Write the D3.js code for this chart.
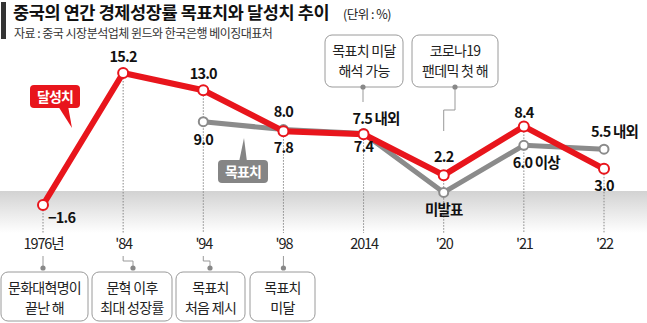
<!DOCTYPE html>
<html><head><meta charset="utf-8">
<script src="https://cdn.jsdelivr.net/npm/d3@7"></script>
<style>
body{margin:0;background:#fff;}
text{font-family:"Noto Sans CJK KR","Noto Sans",sans-serif;}
</style></head>
<body><svg id="c" width="647" height="323"></svg>
<script>
const categories = ["1976년","'84","'94","'98","2014","'20","'21","'22"];
const actual = [-1.6, 15.2, 13.0, 7.8, 7.4, 2.2, 8.4, 3.0];
const target = [null, null, 9.0, 8.0, 7.5, 0.0, 6.0, 5.5];
const actualLabels = ["−1.6","15.2","13.0","7.8","7.4","2.2","8.4","3.0"];
const targetLabels = [null,null,"9.0","8.0","7.5 내외","미발표","6.0 이상","5.5 내외"];
const bottomNotes = [["문화대혁명이","끝난 해"],["문혁 이후","최대 성장률"],["목표치","처음 제시"],["목표치","미달"]];
const topNotes = [["목표치 미달","해석 가능"],["코로나19","팬데믹 첫 해"]];

const svg = d3.select("#c");
const RED = "#e8151c", GRAY = "#8b8b8b";
const x = d3.scalePoint().domain(categories).range([43, 604]);
const y = d3.scaleLinear().domain([-1.6, 15.2]).range([205, 73]);

const defs = svg.append("defs");
const g1 = defs.append("linearGradient").attr("id","band").attr("x1",0).attr("y1",0).attr("x2",0).attr("y2",1);
g1.append("stop").attr("offset","0%").attr("stop-color","#d2d2d2");
g1.append("stop").attr("offset","100%").attr("stop-color","#ffffff");
svg.append("rect").attr("x",0).attr("y",191).attr("width",647).attr("height",42).attr("fill","url(#band)");

// title
svg.append("rect").attr("x",1).attr("y",2).attr("width",5).attr("height",37).attr("fill","#333");
svg.append("text").attr("x",13).attr("y",19).attr("font-size",17.5).attr("font-weight",700).attr("fill","#111")
  .attr("letter-spacing",-0.4).text("중국의 연간 경제성장률 목표치와 달성치 추이");
svg.append("text").attr("x",343).attr("y",18.5).attr("font-size",12.5).attr("fill","#222").attr("letter-spacing",-0.5).text("(단위 : %)");
svg.append("text").attr("x",14).attr("y",38).attr("font-size",12).attr("fill","#333").attr("letter-spacing",-0.5)
  .text("자료 : 중국 시장분석업체 윈드와 한국은행 베이징대표처");

categories.forEach((c,i)=>{
  const top = y(actual[i]);
  svg.append("line").attr("x1",x(c)).attr("x2",x(c)).attr("y1",top+5).attr("y2",233)
    .attr("stroke","#888").attr("stroke-width",1).attr("stroke-dasharray","1.5,1.5");
});

const xAxis = svg.append("g").attr("transform","translate(0,236)")
  .call(d3.axisBottom(x).tickSize(0).tickPadding(0));
xAxis.select(".domain").remove();
xAxis.selectAll("text").attr("font-size",14.5).attr("fill","#222").attr("letter-spacing",-1.1)
  .attr("font-family","'Liberation Sans Narrow','Noto Sans CJK KR',sans-serif").attr("dy","0.9em");

const tData = categories.map((c,i)=>({c,v:target[i]})).filter(d=>d.v!==null);
const line = d3.line().x(d=>x(d.c)).y(d=>y(d.v));
svg.append("path").datum(tData).attr("d",line).attr("fill","none").attr("stroke",GRAY).attr("stroke-width",5).attr("stroke-linejoin","round");
svg.selectAll(".tc").data(tData).enter().append("circle").attr("cx",d=>x(d.c)).attr("cy",d=>y(d.v)).attr("r",4.5)
  .attr("fill","#fff").attr("stroke",GRAY).attr("stroke-width",2);

const aData = categories.map((c,i)=>({c,v:actual[i]}));
svg.append("path").datum(aData).attr("d",line).attr("fill","none").attr("stroke",RED).attr("stroke-width",6).attr("stroke-linejoin","round");
svg.selectAll(".ac").data(aData).enter().append("circle").attr("cx",d=>x(d.c)).attr("cy",d=>y(d.v)).attr("r",5)
  .attr("fill","#fff").attr("stroke",RED).attr("stroke-width",2);

function lab(tx,xx,yy,anchor){
  svg.append("text").attr("x",xx).attr("y",yy).attr("text-anchor",anchor||"middle").attr("dy","0.35em")
    .attr("font-size",14.5).attr("font-weight",700).attr("fill","#111").attr("letter-spacing",-0.8).text(tx);
}
const aOff = [[0,0],[0,-16],[0,-16],[0,17],[0,13],[0,-18],[0,-14],[0,17]];
actualLabels.forEach((t,i)=>{
  const c = categories[i];
  if(i===0) lab(t, x(c)+5, y(actual[i])+13, "start");
  else lab(t, x(c)+aOff[i][0], y(actual[i])+aOff[i][1]);
});
lab(targetLabels[2], x("'94"), y(9.0)+18);
lab(targetLabels[3], x("'98"), y(8.0)-18);
lab(targetLabels[4], x("2014")-11, y(7.5)-15, "start");
lab(targetLabels[5], x("'20"), y(0.0)+17);
lab(targetLabels[6], x("'21")-11, y(6.0)+18, "start");
lab(targetLabels[7], x("'22")-13, y(5.5)-17, "start");

function callout(bx,by,bw,bh,fill,txt,tail){
  svg.append("path").attr("d",tail).attr("fill",fill);
  svg.append("rect").attr("x",bx).attr("y",by).attr("width",bw).attr("height",bh).attr("rx",4).attr("fill",fill);
  svg.append("text").attr("x",bx+bw/2).attr("y",by+bh/2).attr("dy","0.36em").attr("text-anchor","middle")
    .attr("font-size",14).attr("font-weight",700).attr("fill","#fff").attr("letter-spacing",-0.8).text(txt);
}
callout(30,85,50,23,RED,"달성치","M58,106 L68,106 L72,128 Z");
callout(218,160,50,23,"#858585","목표치","M239,162 L247,162 L244,138 Z");

function noteBox(bx,by,bw,bh,lines){
  svg.append("rect").attr("x",bx).attr("y",by).attr("width",bw).attr("height",bh).attr("rx",7)
    .attr("fill","#fff").attr("stroke","#9a9a9a").attr("stroke-width",1);
  lines.forEach((l,k)=>svg.append("text").attr("x",bx+bw/2).attr("y",by+16+k*20).attr("dy","0.35em")
    .attr("text-anchor","middle").attr("font-size",14).attr("fill","#222").attr("letter-spacing",-0.7).text(l));
}
const conn = (pts)=>svg.append("path").attr("d",d3.line()(pts)).attr("fill","none").attr("stroke","#999").attr("stroke-width",1);
const dot = (cx,cy)=>svg.append("circle").attr("cx",cx).attr("cy",cy).attr("r",2.6).attr("fill","#888");

const bx = [[1,87],[92,80],[176,69],[250,65]];
bottomNotes.forEach((n,i)=>noteBox(bx[i][0],272,bx[i][1],49,n));
conn([[x("1976년"),256],[x("1976년"),268]]); dot(x("1976년"),268);
conn([[x("'84"),256],[x("'84"),261],[133,261],[133,268]]); dot(133,268);
conn([[x("'94"),256],[x("'94"),261],[210,261],[210,268]]); dot(210,268);
conn([[x("'98"),256],[x("'98"),268]]); dot(x("'98"),268);

noteBox(325,35,78,52,topNotes[0]);
noteBox(412,35,86,52,topNotes[1]);
conn([[363,87],[363,102]]); dot(363,87);
conn([[455,87],[455,110],[x("'20"),110],[x("'20"),131]]); dot(455,87);
</script></body></html>
